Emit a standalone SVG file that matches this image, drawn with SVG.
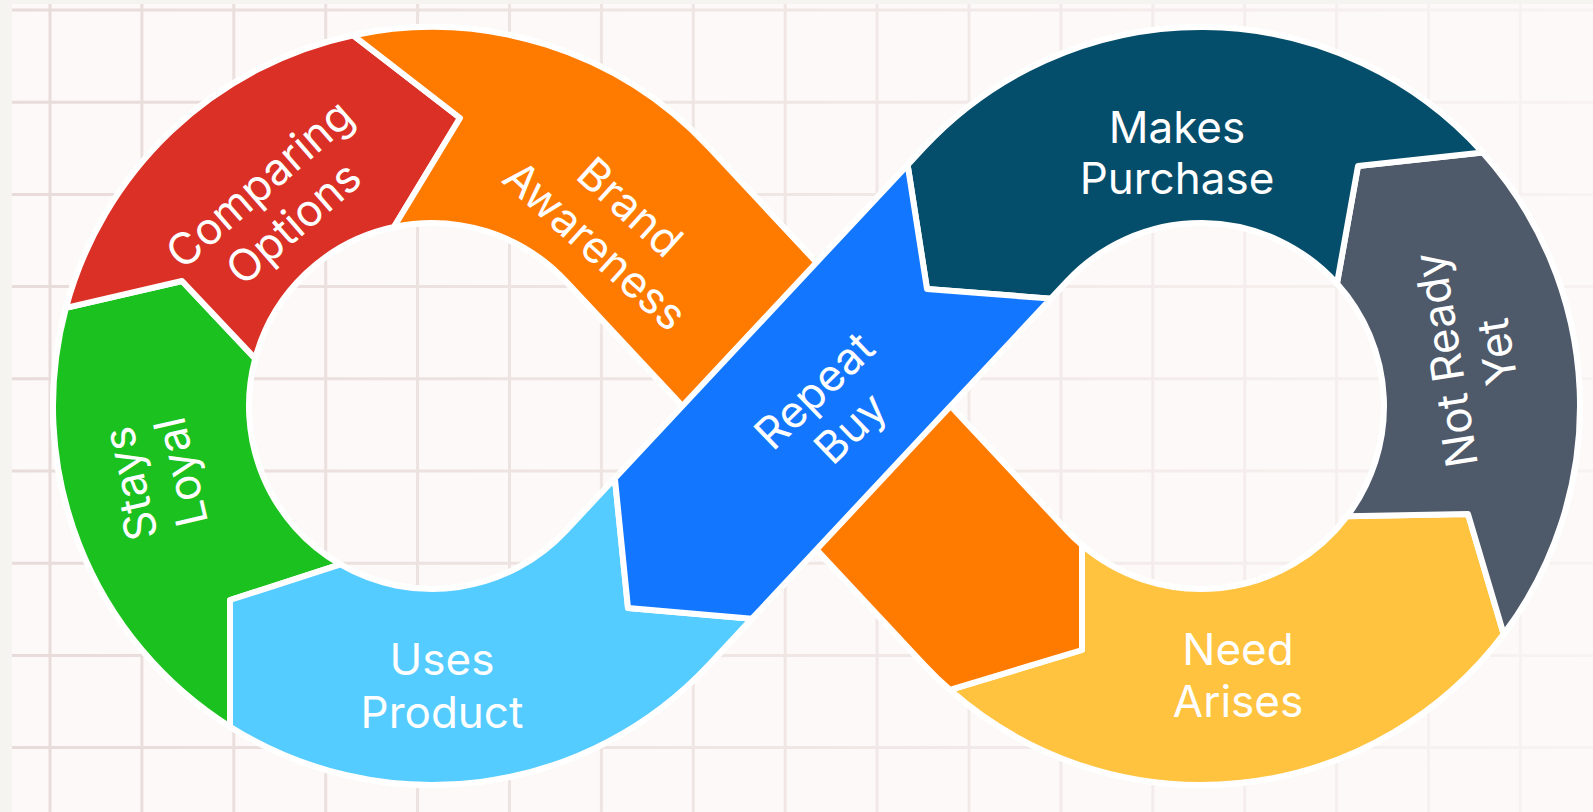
<svg xmlns="http://www.w3.org/2000/svg" width="1593" height="812" viewBox="0 0 1593 812">
  <defs>
    <linearGradient id="gridFade" gradientUnits="userSpaceOnUse" x1="0" y1="0" x2="1593" y2="0">
      <stop offset="0" stop-color="#E8DCDA"/>
      <stop offset="0.5" stop-color="#F0E7E5"/>
      <stop offset="1" stop-color="#F8F3F2"/>
    </linearGradient>
    <style>
      .seg { stroke: #FFFFFF; stroke-width: 6; stroke-linejoin: round; }
      .lbl { font-family: Inter, 'Liberation Sans', sans-serif; font-size: 44px; fill: #FFFFFF; text-anchor: middle; }
    </style>
  </defs>

  <!-- paper and grid -->
  <rect x="0" y="0" width="1593" height="812" fill="#F5F4F0"/>
  <rect x="12" y="4" width="1581" height="808" fill="#FCF9F8"/>
  <path id="grid" fill="none" stroke="url(#gridFade)" stroke-width="3"
        d="M50 4V812 M141.9 4V812 M233.8 4V812 M325.7 4V812 M417.6 4V812 M509.5 4V812 M601.4 4V812 M693.3 4V812 M785.2 4V812 M877.1 4V812 M969 4V812 M1060.9 4V812 M1152.8 4V812 M1244.7 4V812 M1336.6 4V812 M1428.5 4V812 M1520.4 4V812
           M12 10H1593 M12 102.2H1593 M12 194.4H1593 M12 286.6H1593 M12 378.8H1593 M12 471H1593 M12 563.2H1593 M12 655.4H1593 M12 747.6H1593"/>

  <!-- white halo under the whole figure-eight band -->
  <g id="connectors">
    <path d="M 637.36 214.2 L 995.64 597.8 A 281 281 0 1 0 995.64 214.2 L 637.36 597.8 A 281 281 0 1 1 637.36 214.2 Z"
          fill="none" stroke="#FFFFFF" stroke-width="202" stroke-linejoin="round"/>
  </g>

  <g id="stays-loyal">
    <path class="seg" fill="#1BC11F" d="M 230 726.69 A 379 379 0 0 1 65.91 307.91 L 182 281 L 255.23 358.64 A 183 183 0 0 0 340.5 564.48 L 230 600 Z"/>
    <text class="lbl" transform="translate(155 478) rotate(-103)"><tspan x="0" y="-10">Stays</tspan><tspan x="0" y="42">Loyal</tspan></text>
  </g>

  <g id="comparing-options">
    <path class="seg" fill="#DA3026" d="M 65.91 307.91 A 379 379 0 0 1 353.2 35.28 L 460 118 L 393.95 227 A 183 183 0 0 0 255.23 358.64 L 182 281 Z"/>
    <text class="lbl" transform="translate(276 203) rotate(-41)"><tspan x="0" y="-10">Comparing</tspan><tspan x="0" y="42">Options</tspan></text>
  </g>

  <g id="uses-product">
    <path class="seg" fill="#55CCFF" d="M 751.98 618.65 L 708.98 664.69 A 379 379 0 0 1 230 726.69 L 230 600 L 340.5 564.48 A 183 183 0 0 0 565.74 530.91 L 614.89 478.29 L 628 608 Z"/>
    <text class="lbl" x="442" y="675">Uses</text>
    <text class="lbl" x="442" y="728">Product</text>
  </g>

  <g id="need-arises">
    <path class="seg" fill="#FFC33F" d="M 1082 545.03 A 183 183 0 0 0 1347.15 516.13 L 1468 514 L 1503.68 634.09 A 379 379 0 0 1 949.87 689.86 L 1082 650 Z"/>
    <text class="lbl" x="1238" y="665">Need</text>
    <text class="lbl" x="1238" y="717">Arises</text>
  </g>

  <g id="not-ready-yet">
    <path class="seg" fill="#4E596A" d="M 1347.15 516.13 A 183 183 0 0 0 1336.99 283.55 L 1358 166 L 1482.65 152.4 A 379 379 0 0 1 1503.68 634.09 L 1468 514 Z"/>
    <text class="lbl" transform="translate(1471 356) rotate(-99)"><tspan x="0" y="-10">Not Ready</tspan><tspan x="0" y="42">Yet</tspan></text>
  </g>

  <g id="makes-purchase">
    <path class="seg" fill="#054E6B" d="M 1336.99 283.55 A 183 183 0 0 0 1067.26 281.09 L 1050.88 298.63 L 927 289 L 907.64 164.85 L 924.02 147.31 A 379 379 0 0 1 1482.65 152.4 L 1358 166 Z"/>
    <text class="lbl" x="1177" y="143">Makes</text>
    <text class="lbl" x="1177" y="194">Purchase</text>
  </g>

  <g id="brand-awareness">
    <path class="seg" fill="#FF7B00" d="M 353.2 35.28 A 379 379 0 0 1 708.98 147.31 L 1067.26 530.91 A 183 183 0 0 0 1082 545.03 L 1082 650 L 949.87 689.86 A 379 379 0 0 1 924.02 664.69 L 565.74 281.09 A 183 183 0 0 0 393.95 227 L 460 118 Z"/>
    <text class="lbl" transform="translate(613 226) rotate(42)"><tspan x="0" y="-10">Brand</tspan><tspan x="0" y="42">Awareness</tspan></text>
  </g>

  <g id="repeat-buy">
    <path class="seg" fill="#1277FE" d="M 907.64 164.85 L 927 289 L 1050.88 298.63 L 751.98 618.65 L 628 608 L 614.89 478.29 Z"/>
    <text class="lbl" transform="translate(832 409) rotate(-44)"><tspan x="0" y="-10">Repeat</tspan><tspan x="0" y="42">Buy</tspan></text>
  </g>
</svg>
